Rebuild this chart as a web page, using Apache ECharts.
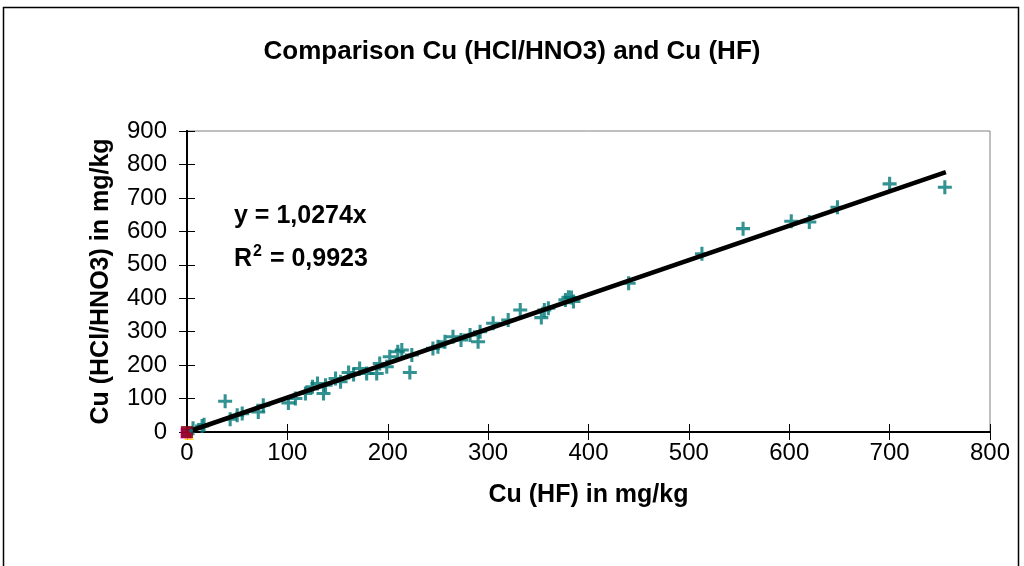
<!DOCTYPE html>
<html>
<head>
<meta charset="utf-8">
<script src="https://cdn.jsdelivr.net/npm/echarts@6/dist/echarts.min.js"></script>
<style>html,body{margin:0;padding:0;background:#fff;}#c{width:1024px;height:566px;}</style>
</head>
<body>
<div id="c"></div>
<script>
// Cu (HF) [x] vs Cu (HCl/HNO3) [y], mg/kg
const cuHF = [6,17,15,38,43,50,55,71,76,101,108,118,125,130,136,138,148,153,161,166,172,179,189,192,199,202,210,214,222,224,245,250,257,265,273,282,290,292,305,320,332,353,356,360,377,385,380,383,440,513,554,602,620,648,700,755];
const cuHCl = [11,22,18,92,38,50,55,60,80,87,100,115,135,145,115,140,160,150,178,172,190,175,175,205,195,225,240,245,178,230,250,255,270,285,275,290,270,300,325,335,365,342,365,370,395,390,403,402,445,533,608,630,628,672,742,732];
// regression line end points (y = 1,0274x)
const trendX = [0, 756];
const trendY = [0, 777];
// other samples plotted at the origin
const originX = [0];
const originY = [0];
const xTicks = [0,100,200,300,400,500,600,700,800];
const yTicks = [0,100,200,300,400,500,600,700,800,900];

const pts = cuHF.map((x,i)=>[x,cuHCl[i]]);
const trend = trendX.map((x,i)=>[x,trendY[i]]);
const origin = originX.map((x,i)=>[x,originY[i]]);
const plus = 'path://M3.9,0H6.1V3.9H10V6.1H6.1V10H3.9V6.1H0V3.9H3.9Z';
const font = 'Arial, "Liberation Sans", sans-serif';

const chart = echarts.init(document.getElementById('c'));
const baseAxis = {
  axisLine:{show:true,onZero:false,lineStyle:{color:'#000',width:2}},
  splitLine:{show:false}
};
chart.setOption({
  animation:false,
  title:{text:'Comparison Cu (HCl/HNO3) and Cu (HF)',left:'center',top:34,
    textStyle:{fontFamily:font,fontSize:26,fontWeight:'bold',color:'#000'}},
  grid:{left:187,top:131,right:34,bottom:134,show:true,borderColor:'#808080',borderWidth:1},
  xAxis:[
    Object.assign({type:'value',min:xTicks[0],max:xTicks[xTicks.length-1],interval:100,
      name:'Cu (HF) in mg/kg',nameLocation:'middle',nameGap:51,
      nameTextStyle:{fontFamily:font,fontSize:25,fontWeight:'bold',color:'#000'},
      axisTick:{show:true,inside:false,length:8,lineStyle:{color:'#000',width:1}},
      axisLabel:{fontFamily:font,fontSize:24,color:'#000',margin:9}},baseAxis),
    Object.assign({type:'value',min:0,max:800,interval:100,position:'bottom',
      axisTick:{show:true,inside:true,length:8,lineStyle:{color:'#000',width:1}},
      axisLabel:{show:false}},baseAxis)
  ],
  yAxis:[
    Object.assign({type:'value',min:yTicks[0],max:yTicks[yTicks.length-1],interval:100,
      name:'Cu (HCl/HNO3) in mg/kg',nameLocation:'middle',nameGap:73,
      nameTextStyle:{fontFamily:font,fontSize:25,fontWeight:'bold',color:'#000'},
      axisTick:{show:true,inside:false,length:8,lineStyle:{color:'#000',width:1}},
      axisLabel:{fontFamily:font,fontSize:24,color:'#000',margin:20}},baseAxis),
    Object.assign({type:'value',min:0,max:900,interval:100,position:'left',
      axisTick:{show:true,inside:true,length:8,lineStyle:{color:'#000',width:1}},
      axisLabel:{show:false}},baseAxis)
  ],
  graphic:[
    {type:'rect',shape:{x:3.5,y:7.5,width:1015,height:570},style:{fill:null,stroke:'#000',lineWidth:1.5},silent:true},
    {type:'text',left:234,top:204,style:{text:'y = 1,0274x',fontFamily:font,fontSize:25,fontWeight:'bold',fill:'#000'}},
    {type:'text',left:234,top:244,style:{text:'{a|R}{s|2}{a| = 0,9923}',fontFamily:font,fontSize:25,fontWeight:'bold',fill:'#000',
      rich:{a:{fontFamily:font,fontSize:25,fontWeight:'bold',fill:'#000',verticalAlign:'bottom'},
            s:{fontFamily:font,fontSize:16,fontWeight:'bold',fill:'#000',verticalAlign:'top',padding:[0,1,12,1]}}}}
  ],
  series:[
    {type:'scatter',data:pts,symbol:plus,symbolSize:14,itemStyle:{color:'#007777'},z:3},
    {type:'line',data:trend,symbol:'none',lineStyle:{color:'#000',width:4.5},z:4},
    {type:'scatter',data:origin,symbol:'triangle',symbolSize:10,symbolOffset:[2,3],itemStyle:{color:'#FFD700'},clip:false,z:5},
    {type:'scatter',data:origin,symbol:'rect',symbolSize:11,symbolOffset:[-1,1],itemStyle:{color:'#FF00FF'},clip:false,z:6},
    {type:'scatter',data:origin,symbol:'rect',symbolSize:12,itemStyle:{color:'#800000'},clip:false,z:7},
    {type:'scatter',data:[[4,4]],symbol:'circle',symbolSize:4,itemStyle:{color:'#008080'},clip:false,z:8}
  ]
});
</script>
</body>
</html>
